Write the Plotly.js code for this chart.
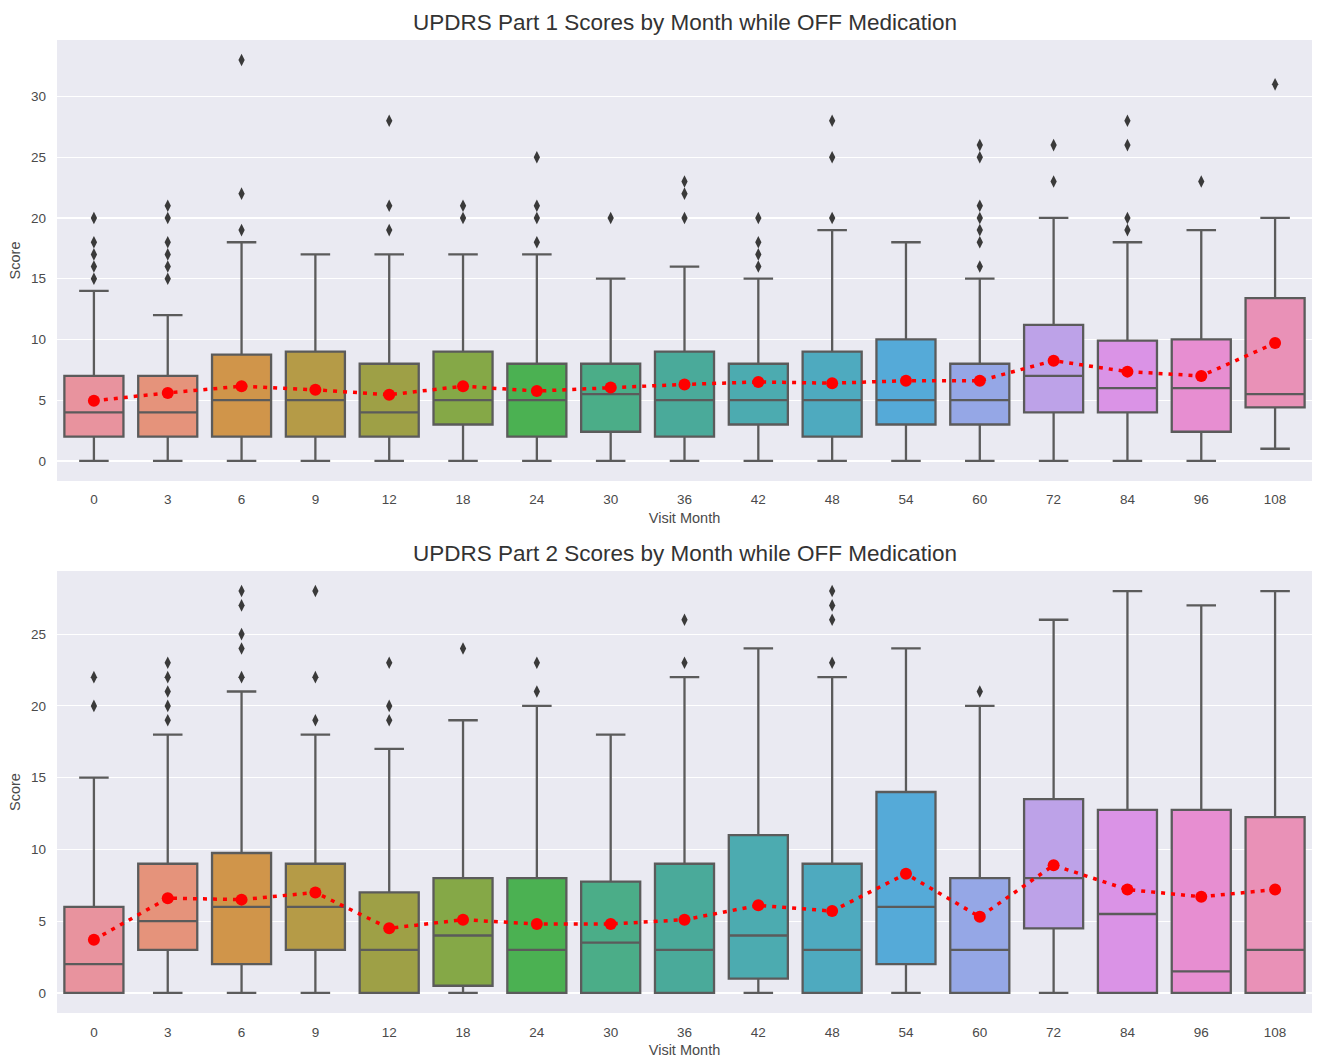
<!DOCTYPE html>
<html>
<head>
<meta charset="utf-8">
<script src="https://cdn.plot.ly/plotly-3.0.1.min.js"></script>
<style>html,body{margin:0;padding:0;background:#fff;}#chart{width:1336px;height:1064px;}</style>
</head>
<body>
<div id="chart"></div>
<script>
// ---- data ----
const months = [0,3,6,9,12,18,24,30,36,42,48,54,60,72,84,96,108];
const palette = ['#E8939E','#E5937B','#D0954A','#B59B47','#9EA046','#85A847','#4BB152','#4BAD88',
                 '#4AAA9A','#4CABB0','#4EAABF','#55AAD8','#95A7E6','#BDA2E8','#DA93E6','#E78ED1','#E991B7'];

// Part 1
const p1Low    = [0,0,0,0,0,0,0,0,0,0,0,0,0,0,0,0,1];
const p1Q1     = [2,2,2,2,2,3,2,2.4,2,3,2,3,3,4,4,2.4,4.4];
const p1Median = [4,4,5,5,4,5,5,5.5,5,5,5,5,5,7,6,6,5.5];
const p1Q3     = [7,7,8.75,9,8,9,8,8,9,8,9,10,8,11.2,9.9,10,13.4];
const p1High   = [14,12,18,17,17,17,17,15,16,15,19,18,15,20,18,19,20];
const p1Mean   = [4.95,5.6,6.15,5.85,5.45,6.15,5.75,6.05,6.3,6.5,6.4,6.6,6.6,8.25,7.35,7.0,9.7];
const p1Outliers = [[15,16,17,18,20],[15,16,17,18,20,21],[19,22,33],[],[19,21,28],[20,21],[18,20,21,25],[20],
                    [20,22,23],[16,17,18,20],[20,25,28],[],[16,18,19,20,21,25,26],[23,26],[19,20,26,28],[23],[31]];

// Part 2
const p2Low    = [0,0,0,0,0,0,0,0,0,0,0,0,0,0,0,0,0];
const p2Q1     = [0,3,2,3,0,0.5,0,0,0,1,0,2,0,4.5,0,0,0];
const p2Median = [2,5,6,6,3,4,3,3.5,3,4,3,6,3,8,5.5,1.5,3];
const p2Q3     = [6,9,9.75,9,7,8,8,7.75,9,11,9,14,8,13.5,12.75,12.75,12.25];
const p2High   = [15,18,21,18,17,19,20,18,22,24,22,24,20,26,28,27,28];
const p2Mean   = [3.7,6.6,6.5,7.0,4.5,5.1,4.8,4.8,5.1,6.1,5.7,8.3,5.3,8.9,7.2,6.7,7.2];
const p2Outliers = [[20,22],[19,20,21,22,23],[22,24,25,27,28],[19,22,28],[19,20,23],[24],[21,23],[],
                    [23,26],[],[23,26,27,28],[],[21],[],[],[],[]];

const labels = months.map(String);

function buildTraces(low,q1,med,q3,high,mean,outl,xa,ya){
  const tr = [];
  labels.forEach((lab,i)=>{
    tr.push({type:'box', x:[lab], q1:[q1[i]], median:[med[i]], q3:[q3[i]],
      lowerfence:[low[i]], upperfence:[high[i]], width:0.8, whiskerwidth:0.5,
      fillcolor:palette[i], line:{color:'#5b5b5b', width:2.3}, boxpoints:false,
      xaxis:xa, yaxis:ya, showlegend:false, hoverinfo:'skip'});
  });
  const ox=[], oy=[];
  outl.forEach((arr,i)=>arr.forEach(v=>{ox.push(labels[i]); oy.push(v);}));
  tr.push({type:'scatter', mode:'markers', x:ox, y:oy, xaxis:xa, yaxis:ya, showlegend:false,
    marker:{symbol:'diamond-tall', size:9, color:'#3a3a3a'}, hoverinfo:'skip'});
  tr.push({type:'scatter', mode:'lines+markers', x:labels, y:mean, xaxis:xa, yaxis:ya, showlegend:false,
    line:{color:'#ff0000', width:3.5, dash:'4px,6px'},
    marker:{size:12, color:'#ff0000'}, hoverinfo:'skip'});
  return tr;
}

const data = [].concat(
  buildTraces(p1Low,p1Q1,p1Median,p1Q3,p1High,p1Mean,p1Outliers,'x','y'),
  buildTraces(p2Low,p2Q1,p2Median,p2Q3,p2High,p2Mean,p2Outliers,'x2','y2')
);

const tickFont = {family:'Liberation Sans, Arial, sans-serif', size:13.5, color:'#4a4a4a'};
const axTitleFont = {family:'Liberation Sans, Arial, sans-serif', size:14.5, color:'#4a4a4a'};
function xax(anchor){
  return {anchor:anchor, type:'category', categoryorder:'array', categoryarray:labels,
    range:[-0.5,16.5], showgrid:false, zeroline:false, showline:false, ticks:'',
    tickfont:tickFont, ticklabelstandoff:9,
    title:{text:'Visit Month', font:axTitleFont, standoff:6}};
}
function yax(anchor, domain, range){
  return {anchor:anchor, domain:domain, range:range, dtick:5, tick0:0,
    showgrid:true, gridcolor:'#ffffff', gridwidth:1.2, zeroline:false, showline:false, ticks:'',
    tickfont:tickFont, ticklabelstandoff:10,
    title:{text:'Score', font:axTitleFont, standoff:6}};
}

const titleFont = {family:'Liberation Sans, Arial, sans-serif', size:22.5, color:'#333333'};
const layout = {
  width:1336, height:1064,
  margin:{l:57, r:24, t:40, b:51},
  paper_bgcolor:'#ffffff', plot_bgcolor:'#EAEAF2',
  boxmode:'overlay',
  xaxis: xax('y'),
  yaxis: yax('x',[0.5468,1],[-1.65,34.65]),
  xaxis2: xax('y2'),
  yaxis2: yax('x2',[0,0.4543],[-1.4,29.4]),
  font:{family:'Liberation Sans, Arial, sans-serif'},
  annotations:[
    {text:'UPDRS Part 1 Scores by Month while OFF Medication', xref:'paper', yref:'paper', x:0.5, y:1,
     yanchor:'middle', yshift:18, showarrow:false, font:titleFont},
    {text:'UPDRS Part 2 Scores by Month while OFF Medication', xref:'paper', yref:'paper', x:0.5, y:0.4543,
     yanchor:'middle', yshift:17, showarrow:false, font:titleFont}
  ]
};

Plotly.newPlot('chart', data, layout, {displayModeBar:false, staticPlot:true});
</script>
</body>
</html>
